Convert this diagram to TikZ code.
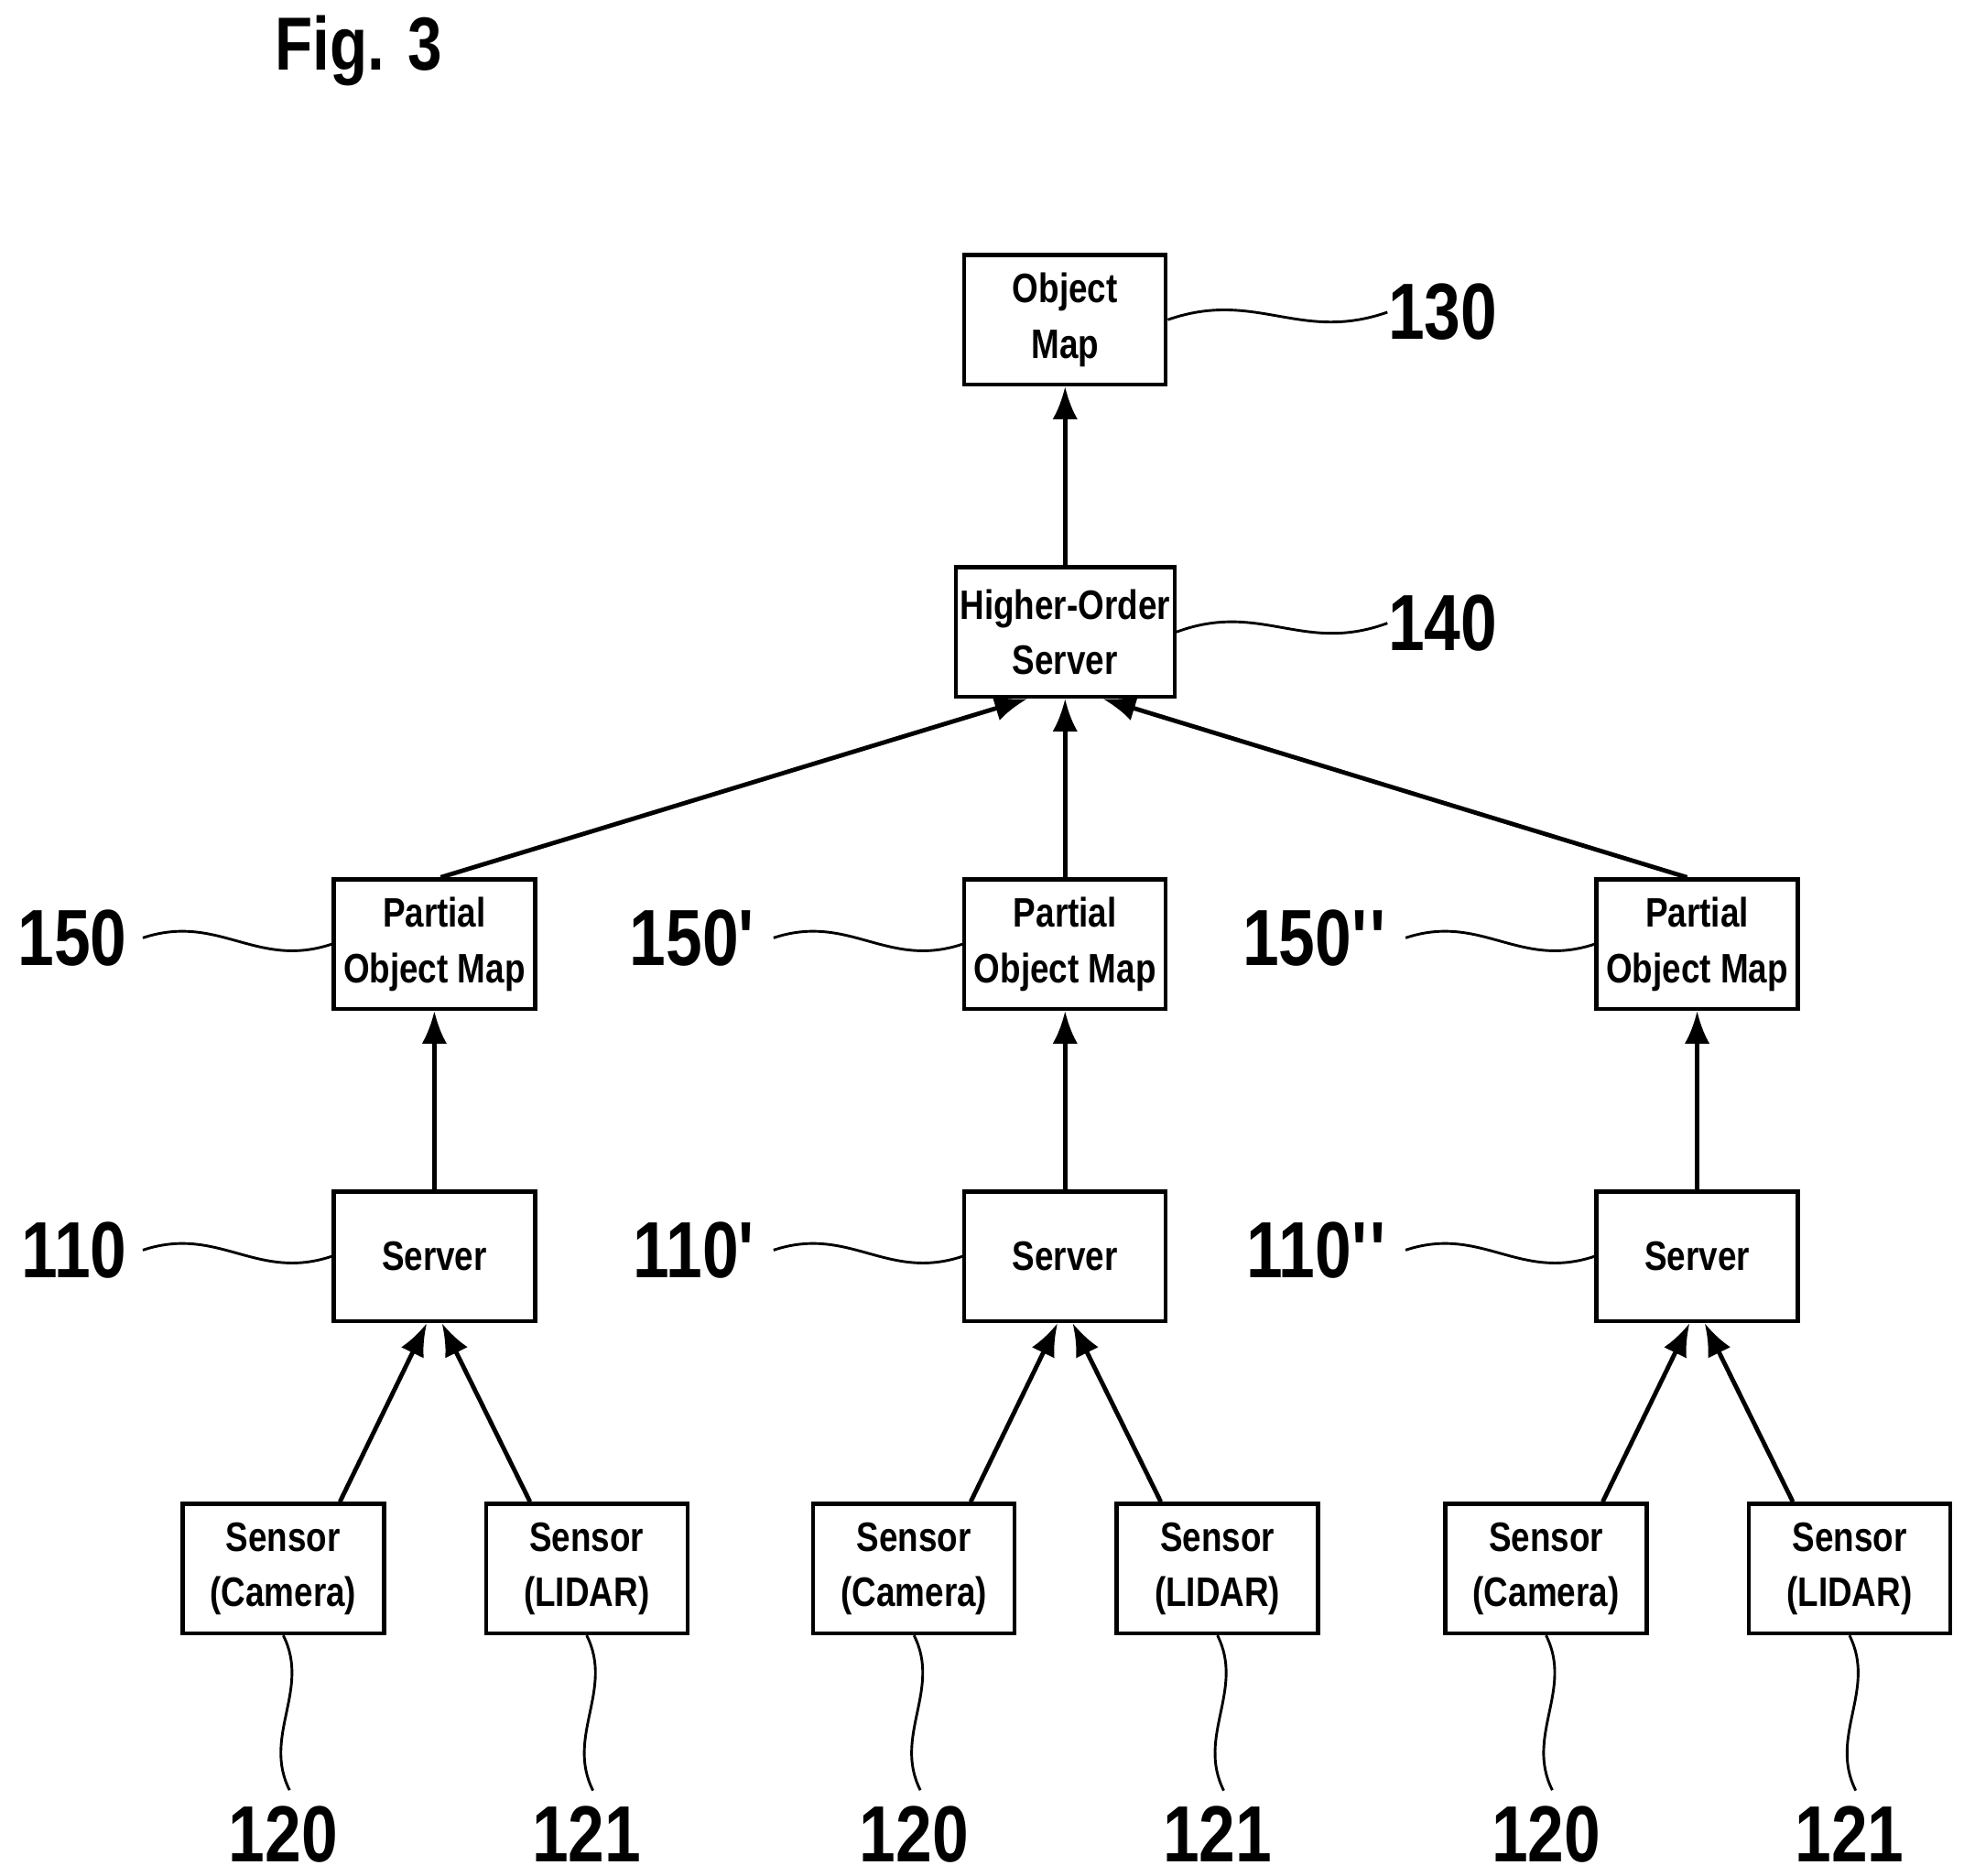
\documentclass[tikz,border=0pt]{standalone}
\usepackage{fontspec}
\setmainfont{Liberation Sans}[FakeStretch=0.82]
\usetikzlibrary{calc,arrows.meta}
\tikzset{
  blk/.style={draw, line width=0.9pt, minimum width=1.6cm, minimum height=1.03cm, align=center, inner sep=1pt, font=\fontsize{9.3}{12.5}\selectfont\bfseries},
  num/.style={font=\fontsize{18}{19}\selectfont\bfseries, inner sep=0pt},
  flow/.style={line width=1pt, -{Latex[length=2.6mm,width=2mm]}},
  lead/.style={line width=0.6pt}
}
% wavy leaders, horizontal and vertical
\def\hlead#1#2{\draw[lead] (#1) .. controls ($(#1)!0.4!(#2)+(0,0.22)$) and ($(#1)!0.6!(#2)+(0,-0.22)$) .. (#2);}
\def\vlead#1#2{\draw[lead] (#1) .. controls ($(#1)!0.35!(#2)+(0.2,0)$) and ($(#1)!0.65!(#2)+(-0.2,0)$) .. (#2);}
\def\pr{\textquotesingle}

\begin{document}
\begin{tikzpicture}
  \useasboundingbox (0,0) rectangle (15.6,14.9);

  \node[font=\fontsize{17}{18}\selectfont\bfseries] (fig) at (2.85,14.5) {Fig. 3};

  \node[blk] (omap) at (8.46,12.36) {Object\\Map};
  \node[blk] (hserv) at (8.46,9.88) {Higher-Order\\Server};
  \draw[flow] (hserv) -- (omap);

  \node[num, anchor=west] (n130) at (11.02,12.42) {130};
  \node[num, anchor=west] (n140) at (11.02,9.95) {140};
  \hlead{omap.east}{n130.west}
  \hlead{hserv.east}{n140.west}

  \foreach \i/\x/\p in {1/3.45/, 2/8.46/\pr, 3/13.48/\pr\pr} {
    \node[blk] (pmap\i) at (\x,7.40) {Partial\\Object Map};
    \node[blk] (serv\i) at (\x,4.92) {Server};
    \node[blk] (cam\i) at ($(\x,2.44)+(-1.2,0)$) {Sensor\\(Camera)};
    \node[blk] (lid\i) at ($(\x,2.44)+(1.21,0)$) {Sensor\\(LIDAR)};

    \draw[flow] (serv\i) -- (pmap\i);
    \draw[flow] ($(cam\i.north)+(0.45,0)$) -- ($(serv\i.south)+(-0.06,0)$);
    \draw[flow] ($(lid\i.north)+(-0.45,0)$) -- ($(serv\i.south)+(0.06,0)$);

    \node[num, anchor=east] (n150\i) at ($(pmap\i.west)+(-1.62,0.05)$) {150\p};
    \node[num, anchor=east] (n110\i) at ($(serv\i.west)+(-1.62,0.05)$) {110\p};
    \coordinate (a150\i) at ($(n150\i.east)+(0.12,0)$);
    \coordinate (a110\i) at ($(n110\i.east)+(0.12,0)$);
    \hlead{a150\i}{pmap\i.west}
    \hlead{a110\i}{serv\i.west}

    \node[num] (n120\i) at ($(cam\i.south)+(0,-1.58)$) {120};
    \node[num] (n121\i) at ($(lid\i.south)+(0,-1.58)$) {121};
    \coordinate (a120\i) at ($(n120\i.north)+(0.05,0.12)$);
    \coordinate (a121\i) at ($(n121\i.north)+(0.05,0.12)$);
    \vlead{cam\i.south}{a120\i}
    \vlead{lid\i.south}{a121\i}
  }

  \draw[flow] ($(pmap1.north)+(0.05,0)$) -- ($(hserv.south)+(-0.3,0)$);
  \draw[flow] (pmap2) -- (hserv);
  \draw[flow] ($(pmap3.north)+(-0.08,0)$) -- ($(hserv.south)+(0.3,0)$);
\end{tikzpicture}
\end{document}
